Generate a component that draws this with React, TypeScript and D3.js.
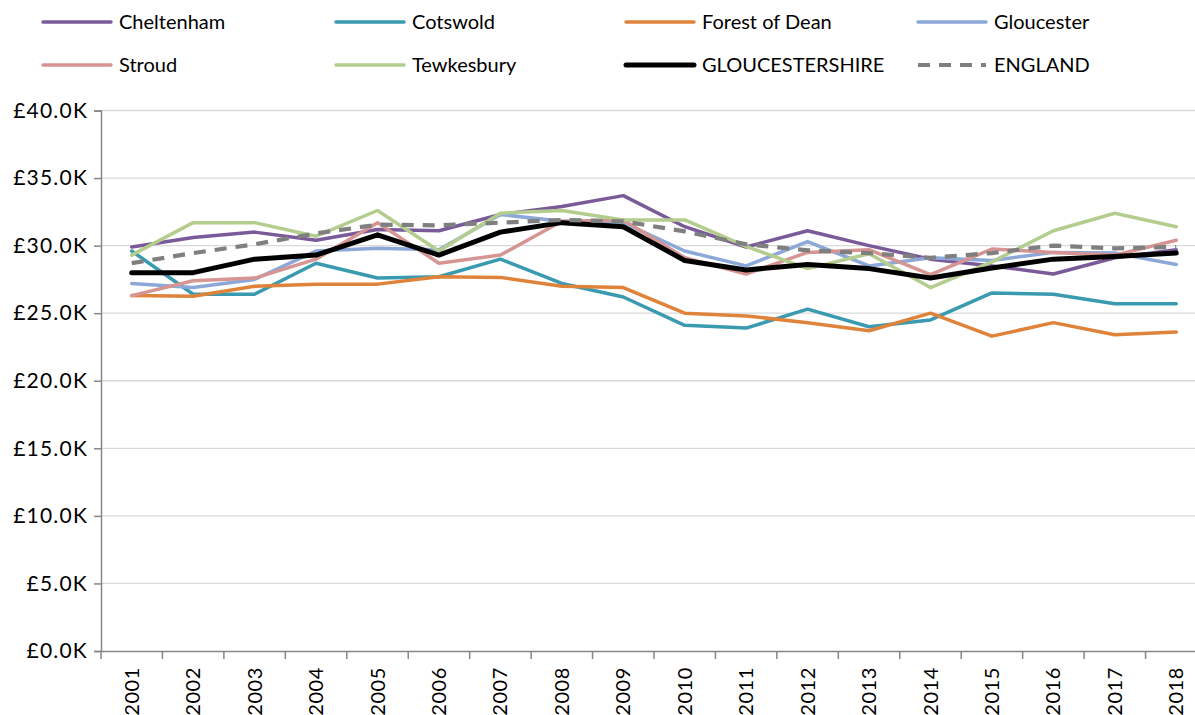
import React, { useEffect, useRef } from "react";
import * as d3 from "d3";

const years = ["2001","2002","2003","2004","2005","2006","2007","2008","2009","2010","2011","2012","2013","2014","2015","2016","2017","2018"];

const cheltenham = [29.9,30.6,31.0,30.4,31.2,31.1,32.3,32.9,33.7,31.4,29.9,31.1,30.0,29.0,28.5,27.9,29.1,29.7];
const cotswold = [29.6,26.4,26.4,28.7,27.6,27.7,29.0,27.2,26.2,24.1,23.9,25.3,24.0,24.5,26.5,26.4,25.7,25.7];
const forestOfDean = [26.3,26.25,27.0,27.15,27.15,27.7,27.65,27.0,26.9,25.0,24.8,24.3,23.7,25.0,23.3,24.3,23.4,23.6];
const gloucester = [27.2,26.9,27.5,29.6,29.8,29.7,32.3,31.8,31.7,29.6,28.5,30.3,28.5,29.1,28.9,29.5,29.45,28.6];
const stroud = [26.3,27.4,27.6,29.0,31.7,28.7,29.3,31.8,31.9,29.1,27.9,29.5,29.7,27.85,29.75,29.5,29.3,30.4];
const tewkesbury = [29.3,31.7,31.7,30.7,32.6,29.6,32.4,32.6,31.9,31.9,29.95,28.3,29.4,26.9,28.8,31.1,32.4,31.4];
const gloucestershire = [28.0,28.0,29.0,29.3,30.8,29.3,31.0,31.7,31.4,28.9,28.2,28.6,28.3,27.6,28.35,29.0,29.2,29.45];
const england = [28.7,29.45,30.1,30.9,31.55,31.5,31.7,31.9,31.8,31.05,30.1,29.65,29.45,29.1,29.45,30.0,29.8,29.9];

const yTicks = [0,5,10,15,20,25,30,35,40];

const seriesNames = ["Cheltenham","Cotswold","Forest of Dean","Gloucester","Stroud","Tewkesbury","GLOUCESTERSHIRE","ENGLAND"];
const seriesValues = [cheltenham,cotswold,forestOfDean,gloucester,stroud,tewkesbury,gloucestershire,england];
const seriesColors = ["#7A5A99","#3A9AB0","#E0833A","#8CA8D8","#D69592","#B4CD8E","#000000","#7F7F7F"];
const seriesWidths = [3.5,3.5,3.5,3.5,3.5,3.5,5,4.2];
const seriesDash = [null,null,null,null,null,null,null,"12,9"];

const W = 1195, H = 715;
const FONT = "Lato, 'Open Sans', sans-serif";

export default function App() {
  const ref = useRef<SVGSVGElement | null>(null);
  useEffect(() => {
    document.body.style.margin = "0";
    const svg = d3.select(ref.current);
    svg.selectAll("*").remove();
    const left = 101, right = 1207, top = 110.5, bottom = 651;
    const x = d3.scaleBand<string>().domain(years).range([left, right]).padding(0);
    const y = d3.scaleLinear().domain([0, 40]).range([bottom, top]);
    const cx = (d: string) => (x(d) as number) + x.bandwidth() / 2;

    // gridlines
    svg.append("g").selectAll("line").data(yTicks.filter(t => t > 0)).join("line")
      .attr("x1", left).attr("x2", W).attr("y1", d => y(d)).attr("y2", d => y(d))
      .attr("stroke", "#D9D9D9").attr("stroke-width", 1.3);

    // y axis
    const yAxis = d3.axisLeft(y).tickValues(yTicks).tickSize(7).tickPadding(6)
      .tickFormat(d => "£" + (d as number).toFixed(1) + "K");
    const gy = svg.append("g").attr("transform", `translate(${left},0)`).call(yAxis);
    gy.select(".domain").attr("stroke", "#868686").attr("stroke-width", 1.5);
    gy.selectAll(".tick line").attr("stroke", "#868686").attr("stroke-width", 1.5);
    gy.selectAll(".tick text").attr("font-family", FONT).attr("font-size", 21).attr("fill", "#000")
      .attr("letter-spacing", 1.2);

    // x axis
    const xAxis = d3.axisBottom(x).tickSize(0).tickPadding(0);
    const gx = svg.append("g").attr("transform", `translate(0,${bottom})`).call(xAxis);
    gx.select(".domain").attr("stroke", "#868686").attr("stroke-width", 1.5);
    gx.selectAll(".tick text").attr("font-family", FONT).attr("font-size", 20).attr("fill", "#000")
      .attr("transform", "rotate(-90)").attr("text-anchor", "end").attr("dy", "0.35em").attr("x", -16).attr("y", 0)
      .attr("letter-spacing", 0.6);
    // boundary ticks
    svg.append("g").selectAll("line").data(years).join("line")
      .attr("x1", d => (x(d) as number)).attr("x2", d => (x(d) as number))
      .attr("y1", bottom).attr("y2", bottom + 8)
      .attr("stroke", "#868686").attr("stroke-width", 1.5);

    // lines
    const line = d3.line<number>().x((_, i) => cx(years[i])).y(d => y(d));
    seriesValues.forEach((vals, i) => {
      svg.append("path").datum(vals).attr("d", line).attr("fill", "none")
        .attr("stroke", seriesColors[i]).attr("stroke-width", seriesWidths[i])
        .attr("stroke-linejoin", "round").attr("stroke-linecap", seriesDash[i] ? "butt" : "round")
        .attr("stroke-dasharray", seriesDash[i] as any);
    });

    // legend
    const colX = [43, 336, 626, 918];
    const rowY = [22, 65];
    seriesNames.forEach((name, i) => {
      const col = i % 4, row = Math.floor(i / 4);
      const g = svg.append("g").attr("transform", `translate(${colX[col]},${rowY[row]})`);
      g.append("line").attr("x1", 0).attr("x2", 68).attr("y1", 0).attr("y2", 0)
        .attr("stroke", seriesColors[i]).attr("stroke-width", seriesWidths[i])
        .attr("stroke-linecap", seriesDash[i] ? "butt" : "round")
        .attr("stroke-dasharray", seriesDash[i] ? "12,9" : null as any);
      g.append("text").attr("x", 76).attr("y", 0).attr("dy", "0.35em")
        .attr("font-family", FONT).attr("font-size", 20).attr("fill", "#000").text(name);
    });
  }, []);
  return <svg ref={ref} width={W} height={H} style={{ display: "block", background: "#fff" }} />;
}
